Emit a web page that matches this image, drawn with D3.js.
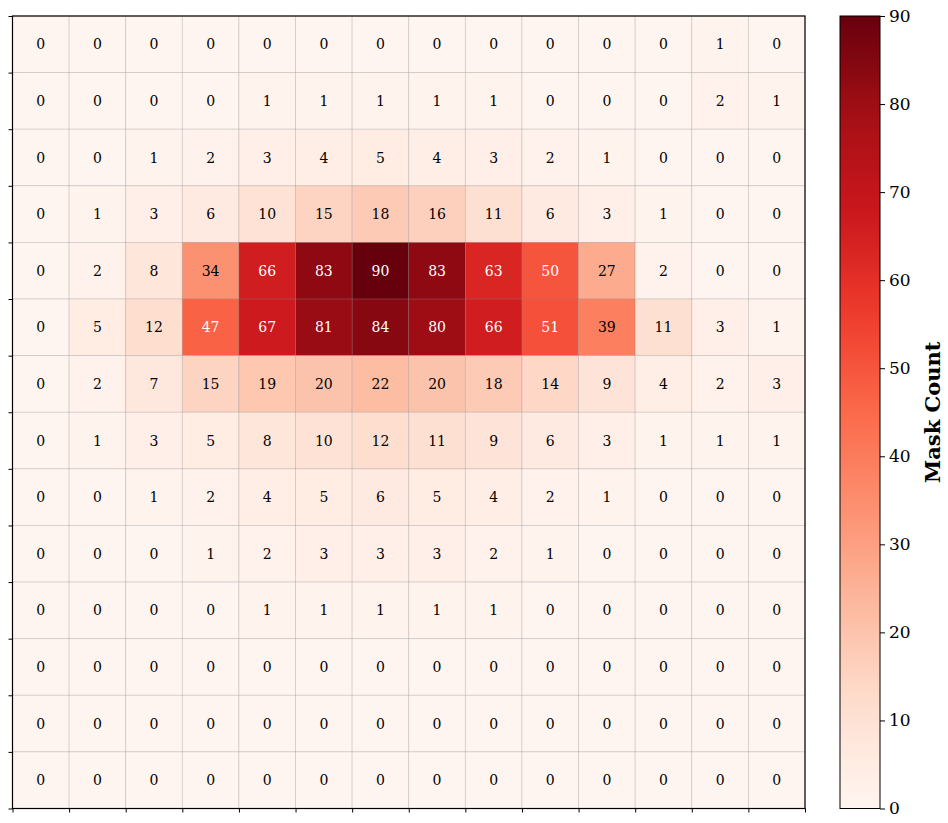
<!DOCTYPE html>
<html><head><meta charset="utf-8">
<script src="https://cdn.jsdelivr.net/npm/d3@7"></script>
<style>body{margin:0;background:#fff}</style>
</head><body>
<svg id="c" width="948" height="823"></svg>
<script>
const rowIndex = d3.range(14);
const colIndex = d3.range(14);
const counts = [
  [0,0,0,0,0,0,0,0,0,0,0,0,1,0],
  [0,0,0,0,1,1,1,1,1,0,0,0,2,1],
  [0,0,1,2,3,4,5,4,3,2,1,0,0,0],
  [0,1,3,6,10,15,18,16,11,6,3,1,0,0],
  [0,2,8,34,66,83,90,83,63,50,27,2,0,0],
  [0,5,12,47,67,81,84,80,66,51,39,11,3,1],
  [0,2,7,15,19,20,22,20,18,14,9,4,2,3],
  [0,1,3,5,8,10,12,11,9,6,3,1,1,1],
  [0,0,1,2,4,5,6,5,4,2,1,0,0,0],
  [0,0,0,1,2,3,3,3,2,1,0,0,0,0],
  [0,0,0,0,1,1,1,1,1,0,0,0,0,0],
  [0,0,0,0,0,0,0,0,0,0,0,0,0,0],
  [0,0,0,0,0,0,0,0,0,0,0,0,0,0],
  [0,0,0,0,0,0,0,0,0,0,0,0,0,0]
];
const cbTicks = [0,10,20,30,40,50,60,70,80,90];
const redsStops = ["#fff5f0","#fee0d2","#fcbba1","#fc9272","#fb6a4a","#ef3b2c","#cb181d","#a50f15","#67000d"];

const svg = d3.select("#c");
const L = 12.5, T = 16, R = 805, B = 808.5;
const font = "'DejaVu Serif', serif";
const x = d3.scaleBand().domain(colIndex).range([L, R]).padding(0);
const y = d3.scaleBand().domain(rowIndex).range([T, B]).padding(0);
const interp = d3.piecewise(d3.interpolateRgb, redsStops);
const color = d3.scaleSequential(interp).domain([0, 90]);

const cells = [];
counts.forEach((row, r) => row.forEach((v, c) => cells.push({r, c, v})));

svg.append("g").selectAll("rect").data(cells).join("rect")
  .attr("x", d => x(d.c)).attr("y", d => y(d.r))
  .attr("width", x.bandwidth()).attr("height", y.bandwidth())
  .attr("fill", d => color(d.v))
  .attr("stroke", "rgba(128,128,128,0.3)").attr("stroke-width", 0.8);

svg.append("g").selectAll("text").data(cells).join("text")
  .attr("x", d => x(d.c) + x.bandwidth()/2)
  .attr("y", d => y(d.r) + y.bandwidth()/2)
  .attr("text-anchor", "middle").attr("dominant-baseline", "central")
  .attr("font-family", font).attr("font-size", 14)
  .attr("fill", d => d.v > 45 ? "#fff" : "#000")
  .text(d => d.v);

const xb = d3.scaleLinear().domain([0,14]).range([L, R]);
const yb = d3.scaleLinear().domain([0,14]).range([T, B]);
svg.append("g").attr("transform", `translate(0,${B})`)
  .call(d3.axisBottom(xb).tickValues(d3.range(15)).tickSize(4).tickFormat(""))
  .call(g => g.select(".domain").remove())
  .selectAll("line").attr("stroke", "#000").attr("stroke-width", 1);
svg.append("g").attr("transform", `translate(${L},0)`)
  .call(d3.axisLeft(yb).tickValues(d3.range(15)).tickSize(4).tickFormat(""))
  .call(g => g.select(".domain").remove())
  .selectAll("line").attr("stroke", "#000").attr("stroke-width", 1);
svg.append("rect").attr("x", L).attr("y", T).attr("width", R-L).attr("height", B-T)
  .attr("fill", "none").attr("stroke", "#000").attr("stroke-width", 1.2);

const cbX = 840, cbW = 40;
const defs = svg.append("defs");
const grad = defs.append("linearGradient").attr("id", "g").attr("x1", 0).attr("y1", 1).attr("x2", 0).attr("y2", 0);
d3.range(0, 1.0001, 0.05).forEach(t => grad.append("stop").attr("offset", t).attr("stop-color", interp(t)));
svg.append("rect").attr("x", cbX).attr("y", T).attr("width", cbW).attr("height", B-T)
  .attr("fill", "url(#g)").attr("stroke", "#000").attr("stroke-width", 1);
const cy = d3.scaleLinear().domain([0,90]).range([B, T]);
const cbAxis = svg.append("g").attr("transform", `translate(${cbX+cbW},0)`)
  .call(d3.axisRight(cy).tickValues(cbTicks).tickSize(5).tickPadding(4));
cbAxis.select(".domain").remove();
cbAxis.selectAll("text").attr("font-family", font).attr("font-size", 17).attr("fill", "#000");
cbAxis.selectAll("line").attr("stroke", "#000");
svg.append("text").attr("transform", `translate(932,${(T+B)/2}) rotate(-90)`)
  .attr("text-anchor", "middle").attr("dominant-baseline", "central")
  .attr("font-family", font).attr("font-size", 21).attr("font-weight", "bold")
  .text("Mask Count");
</script>
</body></html>
